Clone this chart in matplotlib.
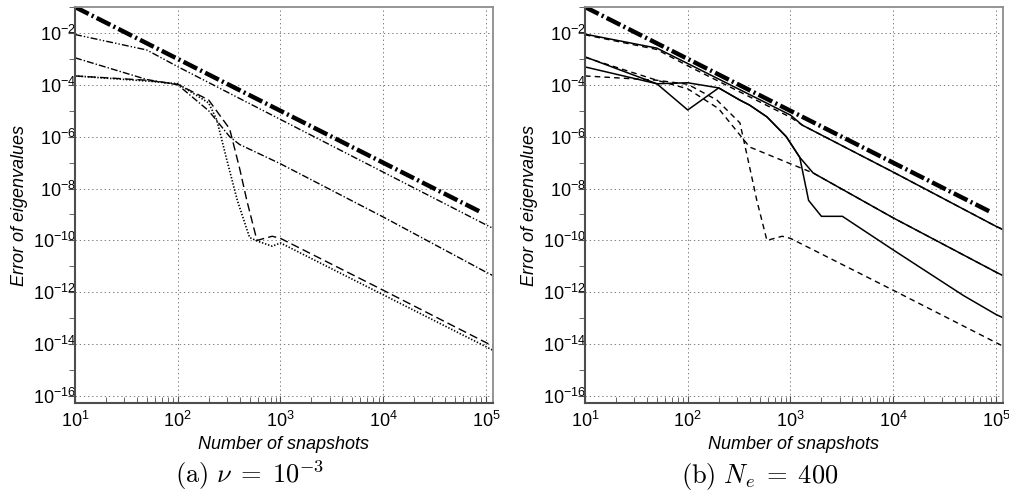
import math
import matplotlib
matplotlib.use("Agg")
import matplotlib.pyplot as plt
from matplotlib.ticker import FixedLocator, FuncFormatter, NullFormatter

plt.rcParams['font.family'] = ['Liberation Sans', 'DejaVu Sans']
plt.rcParams['mathtext.fontset'] = 'cm'
plt.rcParams['axes.unicode_minus'] = False
plt.rcParams['lines.scale_dashes'] = False

# reference slope line (both panels)
n_ref = [10, 87000]
e_ref = [1e-1, 1.3e-9]

# panel (a): nu = 1e-3
n_a = [10, 50, 100, 1000, 10000, 100000, 120000]
e_a = [8.7e-3, 2.2e-3, 5.0e-4, 4.6e-6, 4.3e-8, 4.0e-10, 2.8e-10]

n_b = [10, 50, 100, 200, 320, 400, 1000, 10000, 100000, 120000]
e_b = [1.1e-3, 1.6e-4, 1.0e-4, 1.0e-5, 1.0e-6, 5.0e-7, 9.0e-8, 8.0e-10, 6.0e-12, 4.2e-12]

n_c = [10, 50, 100, 200, 320, 400, 470, 590, 830, 1000, 10000, 100000, 120000]
e_c = [2.2e-4, 1.5e-4, 1.05e-4, 2.6e-5, 2.0e-6, 6.0e-8, 3.5e-9, 1.0e-10, 1.45e-10,
       1.2e-10, 1.2e-12, 1.15e-14, 8.0e-15]

n_d = [10, 50, 100, 200, 240, 300, 380, 500, 600, 830, 1000, 10000, 100000, 120000]
e_d = [2.2e-4, 1.4e-4, 1.1e-4, 2.0e-5, 4.4e-6, 1.3e-7, 3.5e-9, 1.3e-10, 9.3e-11,
       6.0e-11, 8.0e-11, 8.0e-13, 8.0e-15, 5.5e-15]

# panel (b): Ne = 400, solid lines
n_s1 = [10, 50, 100, 1000, 1300, 10000, 100000, 120000]
e_s1 = [9.0e-3, 2.6e-3, 6.6e-4, 6.8e-6, 2.8e-6, 4.3e-8, 3.5e-10, 2.5e-10]

n_s2 = [10, 50, 100, 200, 320, 400, 590, 910, 1230, 1500, 2000, 3200, 10000, 48000,
        100000, 120000]
e_s2 = [1.2e-3, 1.1e-4, 1.07e-5, 7.6e-5, 2.6e-5, 1.65e-5, 5.8e-6, 1.0e-6, 1.6e-7,
        3.5e-9, 8.5e-10, 8.5e-10, 4.3e-11, 7.6e-13, 1.4e-13, 1.0e-13]

n_s3 = [10, 50, 100, 200, 320, 400, 590, 910, 1230, 1660, 10000, 100000, 120000]
e_s3 = [4.9e-4, 1.1e-4, 1.2e-4, 7.6e-5, 2.6e-5, 1.65e-5, 5.8e-6, 1.0e-6, 1.6e-7,
        4.0e-8, 7.4e-10, 6.0e-12, 4.2e-12]

# panel (b): dashed lines
n_d1 = [10, 50, 100, 1000, 1300, 10000, 100000, 120000]
e_d1 = [8.5e-3, 2.3e-3, 5.4e-4, 5.6e-6, 2.8e-6, 4.3e-8, 3.5e-10, 2.5e-10]

n_d2 = [10, 50, 100, 200, 400, 1000, 1660, 10000, 100000, 120000]
e_d2 = [1.15e-3, 1.5e-4, 7.0e-5, 1.2e-5, 4.0e-7, 9.0e-8, 4.0e-8, 7.4e-10, 6.0e-12, 4.2e-12]

n_d3 = [10, 50, 100, 192, 322, 400, 470, 590, 830, 1000, 10000, 100000, 120000]
e_d3 = [2.2e-4, 1.5e-4, 1.05e-4, 2.6e-5, 3.4e-6, 6.8e-8, 3.5e-9, 1.0e-10, 1.45e-10,
        1.2e-10, 1.2e-12, 1.15e-14, 8.0e-15]

x_range = (10, 1.17e5)
y_range = (5.4e-17, 1e-1)

ref_style = dict(color='black', lw=3.2, linestyle=(0, (11, 2.5, 1.5, 2.5)),
                 solid_capstyle='butt', dash_capstyle='butt')


def pow_label(v, pos):
    return r'$\mathdefault{10^{%d}}$' % round(math.log10(v))


def style_axes(ax):
    ax.set_xscale('log')
    ax.set_yscale('log')
    ax.set_xlim(*x_range)
    ax.set_ylim(*y_range)
    ax.xaxis.set_major_locator(FixedLocator([10.0 ** k for k in range(1, 6)]))
    ax.xaxis.set_minor_locator(FixedLocator([m * 10.0 ** k for k in range(1, 5)
                                             for m in range(2, 10)]))
    ax.yaxis.set_major_locator(FixedLocator([10.0 ** k for k in range(-16, -1, 2)]))
    ax.yaxis.set_minor_locator(FixedLocator([10.0 ** k for k in range(-15, 0, 2)]))
    ax.xaxis.set_major_formatter(FuncFormatter(pow_label))
    ax.yaxis.set_major_formatter(FuncFormatter(pow_label))
    ax.xaxis.set_minor_formatter(NullFormatter())
    ax.yaxis.set_minor_formatter(NullFormatter())
    ax.grid(True, which='major', linestyle=(0, (1, 2)), color='0.5', lw=0.7)
    ax.tick_params(which='both', labelsize=13, color='0.3', top=False, right=False)
    ax.tick_params(axis='x', which='both', direction='in', pad=6)
    ax.tick_params(axis='y', which='both', direction='out', pad=-6)
    ax.tick_params(which='major', length=5)
    ax.tick_params(which='minor', length=4)
    for s in ('left', 'bottom'):
        ax.spines[s].set_color('0.3')
        ax.spines[s].set_linewidth(1.5)
    for s in ('top', 'right'):
        ax.spines[s].set_color('0.55')
        ax.spines[s].set_linewidth(1.3)
    ax.set_xlabel('Number of snapshots', fontsize=13, style='italic', labelpad=3)
    ax.set_ylabel('Error of eigenvalues', fontsize=13, style='italic')
    ax.yaxis.set_label_coords(-0.113, 0.5)


fig = plt.figure(figsize=(10.09, 4.96), dpi=100)
ax1 = fig.add_axes([75 / 1009, 93 / 496, 418 / 1009, 396 / 496])
ax2 = fig.add_axes([585 / 1009, 93 / 496, 418 / 1009, 396 / 496])

ax1.plot(n_ref, e_ref, **ref_style)
ax1.plot(n_a, e_a, color='black', lw=1.0, linestyle=(0, (5, 1.5, 1, 1.5, 1, 1.5)))
ax1.plot(n_b, e_b, color='black', lw=1.0, linestyle=(0, (5, 1.5, 1, 1.5)))
ax1.plot(n_c, e_c, color='black', lw=1.0, linestyle=(0, (6, 3)))
ax1.plot(n_d, e_d, color='black', lw=1.2, linestyle=(0, (1, 1.3)))
style_axes(ax1)

ax2.plot(n_ref, e_ref, **ref_style)
for n, e in ((n_s1, e_s1), (n_s2, e_s2), (n_s3, e_s3)):
    ax2.plot(n, e, color='black', lw=1.1)
for n, e in ((n_d1, e_d1), (n_d2, e_d2), (n_d3, e_d3)):
    ax2.plot(n, e, color='black', lw=1.0, linestyle=(0, (4, 3)))
style_axes(ax2)

fig.text(250 / 1009, 13 / 496, r'$\mathrm{(a)}\ \nu\;=\;10^{-3}$', fontsize=19,
         ha='center', va='baseline')
fig.text(760 / 1009, 13 / 496, r'$\mathrm{(b)}\ N_e\;=\;400$', fontsize=19,
         ha='center', va='baseline')

fig.savefig('out.png', dpi=100)
